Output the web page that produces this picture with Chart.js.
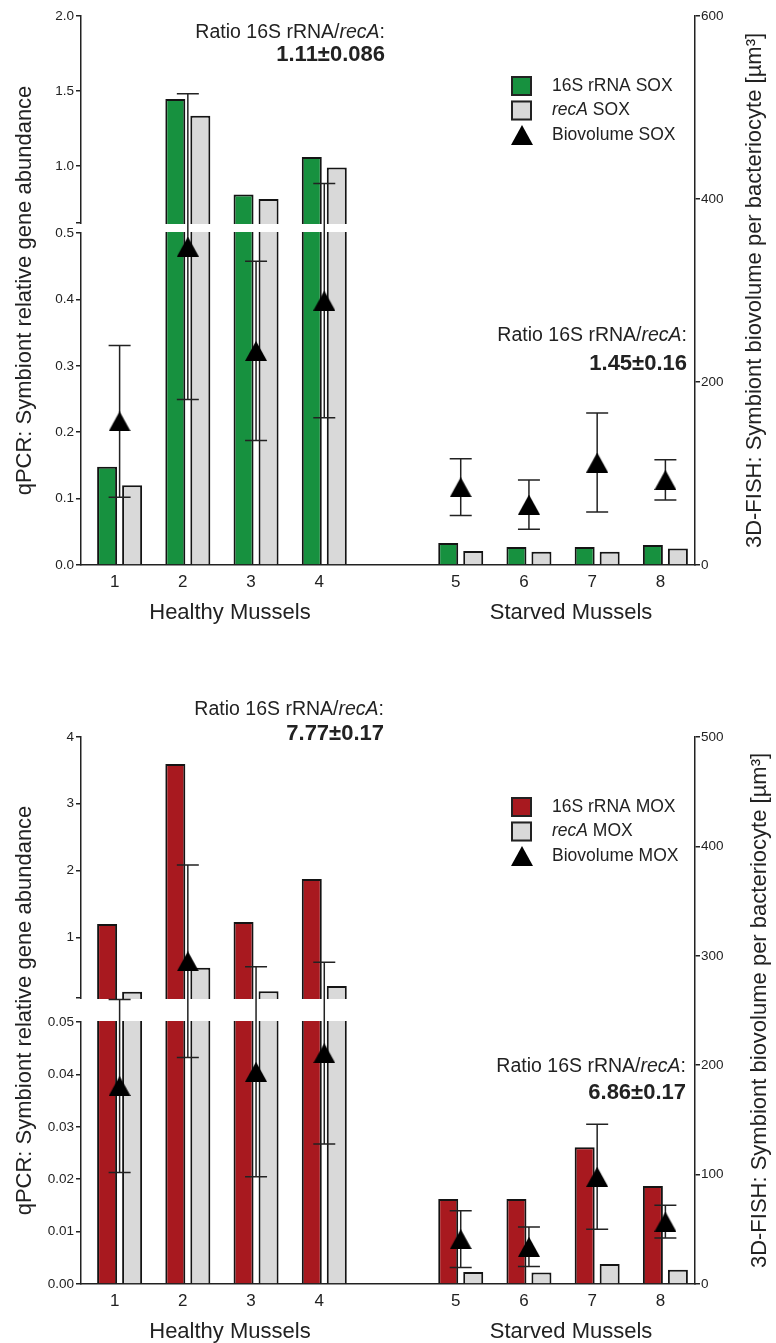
<!DOCTYPE html>
<html>
<head>
<meta charset="utf-8">
<title>SOX / MOX symbiont abundance</title>
<script src="https://cdn.jsdelivr.net/npm/chart.js@4.4.0/dist/chart.umd.min.js"></script>
<style>
  body { margin: 0; background: #fff; }
  canvas { display: block; }
</style>
</head>
<body>
<canvas id="chart-sox" width="776" height="650"></canvas>
<canvas id="chart-mox" width="776" height="693"></canvas>
<script>
// categories
const mussels = ['1', '2', '3', '4', '5', '6', '7', '8'];
const groups = ['Healthy Mussels', 'Starved Mussels'];
const ratioCaption = 'Ratio 16S rRNA/recA:';

// SOX panel (top)
const sox16S = [0.148, 1.447, 0.81, 1.06, 0.033, 0.027, 0.027, 0.030];
const soxRecA = [0.12, 1.335, 0.78, 0.99, 0.021, 0.020, 0.020, 0.025];
const soxBiovol = [157, 348, 234, 289, 85, 66, 112, 93];
const soxBiovolSd = [83, 167, 98, 128, 31, 27, 54, 22];
const soxRatios = ['1.11±0.086', '1.45±0.16'];
const soxLeftTicks = [0, 0.1, 0.2, 0.3, 0.4, 0.5, 1.0, 1.5, 2.0];
const soxBreak = [0.5, 0.62];
const soxRightTicks = [0, 200, 400, 600];

// MOX panel (bottom)
const mox16S = [1.199, 3.595, 1.229, 1.873, 0.0162, 0.0162, 0.0261, 0.0187];
const moxRecA = [0.184, 0.544, 0.19, 0.27, 0.0023, 0.0022, 0.0038, 0.0027];
const moxBiovol = [181, 295, 194, 211, 41, 34, 98, 57];
const moxBiovolSd = [79, 88, 96, 83, 26, 18, 48, 15];
const moxRatios = ['7.77±0.17', '6.86±0.17'];
const moxLeftTicks = [0, 0.01, 0.02, 0.03, 0.04, 0.05, 1, 2, 3, 4];
const moxBreak = [0.05, 0.09];
const moxRightTicks = [0, 100, 200, 300, 400, 500];

Chart.defaults.font.family = "'Liberation Sans', Arial, Helvetica, sans-serif";
const family = Chart.defaults.font.family;
const ink = '#222';

// empty slot between healthy and starved groups
const withGap = arr => [...arr.slice(0, 4), null, ...arr.slice(4)];
const slots = [...mussels.slice(0, 4), '', ...mussels.slice(4)];

// y axis with a break: [min, breakAt[0]] below, [breakAt[1], max] above
class BrokenScale extends Chart.LinearScale {
    determineDataLimits() {
        this.min = this.options.min;
        this.max = this.options.max;
    }
    buildTicks() {
        const o = this.options;
        return [...o.tickValues, o.breakAt[1]].sort((a, b) => a - b).map(v => ({ value: v }));
    }
    breakPixels() {
        const lowTop = this.bottom - (this.bottom - this.top) * this.options.lowFrac;
        return [lowTop - this.options.gapPx, lowTop];
    }
    getPixelForValue(value) {
        if (value === null || value === undefined) return NaN;
        const [lowMax, highMin] = this.options.breakAt;
        const [upBottom, lowTop] = this.breakPixels();
        if (value <= lowMax) {
            return this.bottom - (value - this.min) / (lowMax - this.min) * (this.bottom - lowTop);
        }
        const v = Math.max(value, highMin);
        return upBottom - (v - highMin) / (this.max - highMin) * (upBottom - this.top);
    }
    getValueForPixel(pixel) {
        const [lowMax, highMin] = this.options.breakAt;
        const [upBottom, lowTop] = this.breakPixels();
        if (pixel >= lowTop) return this.min + (this.bottom - pixel) / (this.bottom - lowTop) * (lowMax - this.min);
        return highMin + (upBottom - pixel) / (upBottom - this.top) * (this.max - highMin);
    }
}
BrokenScale.id = 'broken';
BrokenScale.defaults = {};

// category axis whose slots sit a few px off the axis frame
class ShiftedCategoryScale extends Chart.CategoryScale {
    configure() {
        super.configure();
        this._startPixel += this.options.shift;
        this._endPixel += this.options.shift;
    }
}
ShiftedCategoryScale.id = 'shiftedCategory';
ShiftedCategoryScale.defaults = {};
Chart.register(BrokenScale, ShiftedCategoryScale);

// solid triangle marker, centred on its box
const triangle = document.createElement('canvas');
triangle.width = 22;
triangle.height = 20;
(() => {
    const c = triangle.getContext('2d');
    c.fillStyle = '#000';
    c.beginPath();
    c.moveTo(11, 0);
    c.lineTo(22, 20);
    c.lineTo(0, 20);
    c.closePath();
    c.fill();
})();

function splitItalic(str) {
    return str.split(/(recA)/).filter(Boolean).map(t => ({ t, it: t === 'recA' }));
}

function drawRich(ctx, parts, x, y, size, weight, align) {
    const font = p => `${p.it ? 'italic ' : ''}${weight} ${size}px ${family}`;
    let total = 0;
    parts.forEach(p => { ctx.font = font(p); p.w = ctx.measureText(p.t).width; total += p.w; });
    let cx = align === 'right' ? x - total : align === 'center' ? x - total / 2 : x;
    ctx.textAlign = 'left';
    ctx.textBaseline = 'middle';
    parts.forEach(p => { ctx.font = font(p); ctx.fillText(p.t, cx, y); cx += p.w; });
}

const panelDecor = {
    id: 'panelDecor',
    beforeDatasetDraw(chart, args) {
        if (args.meta.type !== 'line') return;
        const { ctx, chartArea } = chart;
        const [gTop, gBot] = chart.scales.y.breakPixels();
        ctx.save();
        // white gap of the broken axis, cut through bars and axis line
        ctx.fillStyle = '#fff';
        ctx.fillRect(chartArea.left - 3, gTop + 1, chartArea.right - chartArea.left + 2, gBot - gTop - 2);

        // error bars of the biovolume
        const ds = chart.data.datasets[args.index];
        const y2 = chart.scales.y2;
        ctx.strokeStyle = ink;
        ctx.lineWidth = 1.5;
        args.meta.data.forEach((pt, i) => {
            const v = ds.data[i], e = ds.errors[i];
            if (v == null) return;
            const yHi = y2.getPixelForValue(v + e), yLo = y2.getPixelForValue(v - e);
            ctx.beginPath();
            ctx.moveTo(pt.x, yHi); ctx.lineTo(pt.x, yLo);
            ctx.moveTo(pt.x - 11, yHi); ctx.lineTo(pt.x + 11, yHi);
            ctx.moveTo(pt.x - 11, yLo); ctx.lineTo(pt.x + 11, yLo);
            ctx.stroke();
        });
        ctx.restore();
    },
    afterDraw(chart, args, opts) {
        const { ctx, chartArea } = chart;
        const x = chart.scales.x;
        ctx.save();
        ctx.fillStyle = ink;

        // legend
        const lx = chartArea.right - 184;
        chart.data.datasets.forEach((ds, i) => {
            const cy = chartArea.top + 70 + i * 24.5;
            if (ds.type === 'line') {
                ctx.drawImage(triangle, lx + 11 - triangle.width / 2, cy - triangle.height / 2);
            } else {
                ctx.fillStyle = ds.backgroundColor;
                ctx.fillRect(lx, cy - 10, 21, 20);
                ctx.strokeStyle = ink;
                ctx.lineWidth = 2;
                ctx.strokeRect(lx + 1, cy - 9, 19, 18);
            }
            ctx.fillStyle = ink;
            drawRich(ctx, splitItalic(ds.label), lx + 41, cy, 17.5, 'normal', 'left');
        });

        // ratio notes
        opts.notes.forEach((n, i) => {
            drawRich(ctx, splitItalic(ratioCaption), n.x, n.y, 19.5, 'normal', 'right');
            drawRich(ctx, [{ t: opts.ratios[i] }], n.x, n.y + n.dy, 22, 'bold', 'right');
        });

        // group captions under the mussel numbers
        ctx.font = `22px ${family}`;
        ctx.textAlign = 'center';
        ctx.textBaseline = 'middle';
        const gy = chartArea.bottom + 48;
        const mid = (a, b) => (x.getPixelForValue(a) + x.getPixelForValue(b)) / 2;
        ctx.fillText(groups[0], mid(0, 3) + 8, gy);
        ctx.fillText(groups[1], mid(5, 8) + 8, gy);

        // right axis title, reading bottom to top
        ctx.translate(opts.rightTitleX, (chartArea.top + chartArea.bottom) / 2);
        ctx.rotate(-Math.PI / 2);
        ctx.fillText('3D-FISH: Symbiont biovolume per bacteriocyte [µm³]', 0, 0);
        ctx.restore();
    }
};

function buildPanel(id, p) {
    return new Chart(document.getElementById(id), {
        type: 'bar',
        data: {
            labels: slots,
            datasets: [
                {
                    label: p.names[0], data: withGap(p.gene16S), backgroundColor: p.color,
                    borderColor: '#141414', borderWidth: 2, categoryPercentage: 0.733, barPercentage: 0.8,
                    yAxisID: 'y', order: 1
                },
                {
                    label: p.names[1], data: withGap(p.recA), backgroundColor: '#d9d9d9',
                    borderColor: '#141414', borderWidth: 2, categoryPercentage: 0.733, barPercentage: 0.8,
                    yAxisID: 'y', order: 1
                },
                {
                    type: 'line', label: p.names[2], data: withGap(p.biovol), errors: withGap(p.biovolSd),
                    yAxisID: 'y2', showLine: false, pointStyle: triangle, pointRadius: 10,
                    pointHoverRadius: 10, order: 0
                }
            ]
        },
        options: {
            responsive: false,
            animation: false,
            events: [],
            layout: { padding: { top: p.area.top } },
            scales: {
                x: {
                    type: 'shiftedCategory', shift: 4.5, offset: true,
                    grid: { display: false, drawTicks: false },
                    border: { color: ink, width: 1.5 },
                    ticks: { font: { size: 17 }, color: ink, padding: 7, labelOffset: -5, autoSkip: false, maxRotation: 0 },
                    afterFit: s => { s.height = p.height - p.area.bottom; }
                },
                y: {
                    type: 'broken', position: 'left', min: 0, max: p.leftTicks[p.leftTicks.length - 1],
                    tickValues: p.leftTicks, breakAt: p.breakAt, lowFrac: p.lowFrac, gapPx: p.gapPx,
                    grid: { drawOnChartArea: false, tickLength: 5, color: ink, lineWidth: 1.5 },
                    border: { color: ink, width: 1.5 },
                    ticks: {
                        font: { size: 13.5 }, color: ink, padding: 2, autoSkip: false,
                        callback: v => v === p.breakAt[1] ? '' : p.fmt(v)
                    },
                    title: {
                        display: true, text: 'qPCR: Symbiont relative gene abundance',
                        font: { size: 22 }, color: ink, padding: { top: 12, bottom: 0 }
                    },
                    afterFit: s => { s.width = p.area.left; }
                },
                y2: {
                    type: 'linear', position: 'right', min: 0, max: p.rightTicks[p.rightTicks.length - 1],
                    afterBuildTicks: s => { s.ticks = p.rightTicks.map(v => ({ value: v })); },
                    grid: { drawOnChartArea: false, tickLength: 5, color: ink, lineWidth: 1.5 },
                    border: { color: ink, width: 1.5 },
                    ticks: { font: { size: 13.5 }, color: ink, padding: 1, autoSkip: false },
                    afterFit: s => { s.width = 776 - p.area.right; }
                }
            },
            plugins: {
                legend: { display: false },
                tooltip: { enabled: false },
                panelDecor: { notes: p.notes, ratios: p.ratios, rightTitleX: p.rightTitleX }
            }
        },
        plugins: [panelDecor]
    });
}

buildPanel('chart-sox', {
    names: ['16S rRNA SOX', 'recA SOX', 'Biovolume SOX'],
    gene16S: sox16S, recA: soxRecA, biovol: soxBiovol, biovolSd: soxBiovolSd,
    color: '#17913f', ratios: soxRatios,
    leftTicks: soxLeftTicks, breakAt: soxBreak, rightTicks: soxRightTicks,
    fmt: v => v.toFixed(1),
    height: 650, area: { top: 16, bottom: 565, left: 81, right: 695 },
    lowFrac: 332 / 549, gapPx: 10,
    notes: [{ x: 385, y: 33, dy: 22 }, { x: 687, y: 336, dy: 28 }],
    rightTitleX: 755
});

buildPanel('chart-mox', {
    names: ['16S rRNA MOX', 'recA MOX', 'Biovolume MOX'],
    gene16S: mox16S, recA: moxRecA, biovol: moxBiovol, biovolSd: moxBiovolSd,
    color: '#a8191f', ratios: moxRatios,
    leftTicks: moxLeftTicks, breakAt: moxBreak, rightTicks: moxRightTicks,
    fmt: v => v < 0.5 ? v.toFixed(2) : String(v),
    height: 693, area: { top: 87, bottom: 634, left: 81, right: 695 },
    lowFrac: 262 / 547, gapPx: 24,
    notes: [{ x: 384, y: 60, dy: 24 }, { x: 686, y: 417, dy: 26 }],
    rightTitleX: 760
});
</script>
</body>
</html>
